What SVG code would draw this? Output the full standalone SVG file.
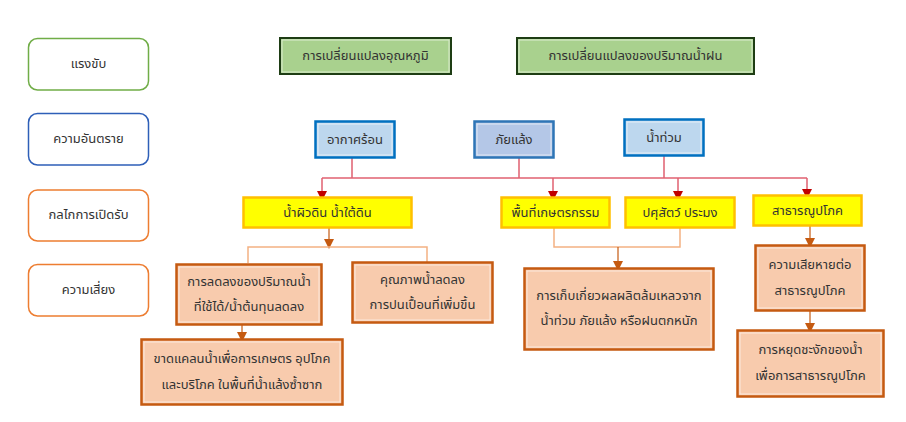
<svg xmlns="http://www.w3.org/2000/svg" width="906" height="422" viewBox="0 0 906 422">
<defs>
<marker id="ar" markerWidth="10" markerHeight="10" refX="5" refY="5" orient="auto" markerUnits="userSpaceOnUse" viewBox="0 0 10 10"><path d="M0,0 L10,5 L0,10 Z" fill="#c00000"/></marker>
<marker id="ao" markerWidth="10" markerHeight="10" refX="5" refY="5" orient="auto" markerUnits="userSpaceOnUse" viewBox="0 0 10 10"><path d="M0,0 L10,5 L0,10 Z" fill="#c55a11"/></marker>
</defs>
<style>
text{font-family:"Noto Sans Thai","Tahoma","DejaVu Sans","Noto Sans",sans-serif;font-size:13px;fill:#333;text-anchor:middle;dominant-baseline:central}
.lbl{fill:#fff;stroke-width:1.5}
.drv{fill:#a9d18e;stroke:#1e3d14;stroke-width:2}
.hz1{fill:#bdd7ee;stroke:#0070c0;stroke-width:2.5}
.hz2{fill:#b4c7e7;stroke:#2e75b6;stroke-width:2.5}
.exp{fill:#ffff00;stroke:#ffc000;stroke-width:2.5}
.rsk{fill:#f8cbad;stroke:#c55a11;stroke-width:2.5}
.in{fill:none;stroke:#fff;stroke-opacity:0.6;stroke-width:1}
.red{fill:none;stroke:#e06070;stroke-width:1.5}
.org{fill:none;stroke:#f4b183;stroke-width:1.5}
.oar{fill:none;stroke:#c55a11;stroke-width:1.2}
</style>
<rect width="906" height="422" fill="#fff"/>
<g id="lbl-driver"><rect class="lbl" x="28.5" y="38.5" width="120" height="51.5" rx="9" stroke="#70ad47"/><text x="88.5" y="64">แรงขับ</text></g>
<g id="lbl-hazard"><rect class="lbl" x="28.5" y="113.5" width="120" height="51.5" rx="9" stroke="#2e5fb8"/><text x="88.5" y="139">ความอันตราย</text></g>
<g id="lbl-exposure"><rect class="lbl" x="28.5" y="190" width="120" height="51" rx="9" stroke="#ed7d31"/><text x="88.5" y="215">กลไกการเปิดรับ</text></g>
<g id="lbl-risk"><rect class="lbl" x="28.5" y="264.5" width="120" height="51.5" rx="9" stroke="#ed7d31"/><text x="88.5" y="290">ความเสี่ยง</text></g>

<g id="connectors">
<path class="red" d="M352,158 V178 M519,158 V178 M664,156 V178"/>
<path class="red" d="M322,178 H807"/>
<path class="red" d="M322,178 V196" marker-end="url(#ar)"/>
<path class="red" d="M553,178 V196" marker-end="url(#ar)"/>
<path class="red" d="M678,178 V196" marker-end="url(#ar)"/>
<path class="red" d="M807,178 V194" marker-end="url(#ar)"/>
<path class="oar" d="M329,228 V244" marker-end="url(#ao)"/>
<path class="org" d="M248,263 V247 H427 V262"/>
<path class="oar" d="M242,325 V337" marker-end="url(#ao)"/>
<path class="org" d="M554,228 V247 H680 V228"/>
<path class="oar" d="M618,247 V266" marker-end="url(#ao)"/>
<path class="oar" d="M810,226 V243" marker-end="url(#ao)"/>
<path class="oar" d="M810,311 V328" marker-end="url(#ao)"/>
</g>

<g id="drv-temp"><rect class="drv" x="280" y="38" width="171" height="36"/><rect class="in" x="282" y="40" width="167" height="32"/><text x="365.5" y="56">การเปลี่ยนแปลงอุณหภูมิ</text></g>
<g id="drv-rain"><rect class="drv" x="517" y="38" width="237" height="36"/><rect class="in" x="519" y="40" width="233" height="32"/><text x="635.5" y="56">การเปลี่ยนแปลงของปริมาณน้ำฝน</text></g>

<g id="hz-heat"><rect class="hz1" x="315.5" y="121.5" width="79" height="36"/><rect class="in" x="318" y="124" width="74" height="31"/><text x="355" y="139.5">อากาศร้อน</text></g>
<g id="hz-drought"><rect class="hz2" x="474.5" y="121.5" width="79" height="36"/><rect class="in" x="477" y="124" width="74" height="31"/><text x="514" y="139.5">ภัยแล้ง</text></g>
<g id="hz-flood"><rect class="hz1" x="624.5" y="119.5" width="79" height="36"/><rect class="in" x="627" y="122" width="74" height="31"/><text x="664" y="137.5">น้ำท่วม</text></g>

<g id="ex-water"><rect class="exp" x="243.5" y="197.5" width="168" height="30"/><text x="327.5" y="213">น้ำผิวดิน น้ำใต้ดิน</text></g>
<g id="ex-agri"><rect class="exp" x="501.5" y="197.5" width="108" height="30"/><text x="555.5" y="213">พื้นที่เกษตรกรรม</text></g>
<g id="ex-live"><rect class="exp" x="625.5" y="197.5" width="109" height="30"/><text x="680" y="213">ปศุสัตว์ ประมง</text></g>
<g id="ex-util"><rect class="exp" x="753.5" y="195.5" width="108" height="30"/><text x="807.5" y="211">สาธารณูปโภค</text></g>

<g id="rk-supply"><rect class="rsk" x="176.5" y="264.5" width="145" height="60"/><rect class="in" x="179" y="267" width="140" height="55"/><text x="249" y="282">การลดลงของปริมาณน้ำ</text><text x="249" y="307">ที่ใช้ได้/น้ำต้นทุนลดลง</text></g>
<g id="rk-quality"><rect class="rsk" x="352.5" y="262.5" width="140" height="60"/><rect class="in" x="355" y="265" width="135" height="55"/><text x="422.5" y="280">คุณภาพน้ำลดลง</text><text x="422.5" y="305">การปนเปื้อนที่เพิ่มขึ้น</text></g>
<g id="rk-shortage"><rect class="rsk" x="141.5" y="339.5" width="201" height="65"/><rect class="in" x="144" y="342" width="196" height="60"/><text x="242" y="359">ขาดแคลนน้ำเพื่อการเกษตร อุปโภค</text><text x="242" y="385">และบริโภค ในพื้นที่น้ำแล้งซ้ำซาก</text></g>
<g id="rk-harvest"><rect class="rsk" x="524.5" y="268.5" width="189" height="81"/><rect class="in" x="527" y="271" width="184" height="76"/><text x="619" y="296">การเก็บเกี่ยวผลผลิตล้มเหลวจาก</text><text x="619" y="321">น้ำท่วม ภัยแล้ง หรือฝนตกหนัก</text></g>
<g id="rk-damage"><rect class="rsk" x="755.5" y="245.5" width="109" height="65"/><rect class="in" x="758" y="248" width="104" height="60"/><text x="810" y="265">ความเสียหายต่อ</text><text x="810" y="291">สาธารณูปโภค</text></g>
<g id="rk-disrupt"><rect class="rsk" x="737.5" y="330.5" width="146" height="66"/><rect class="in" x="740" y="333" width="141" height="61"/><text x="810.5" y="350">การหยุดชะงักของน้ำ</text><text x="810.5" y="376">เพื่อการสาธารณูปโภค</text></g>
</svg>
